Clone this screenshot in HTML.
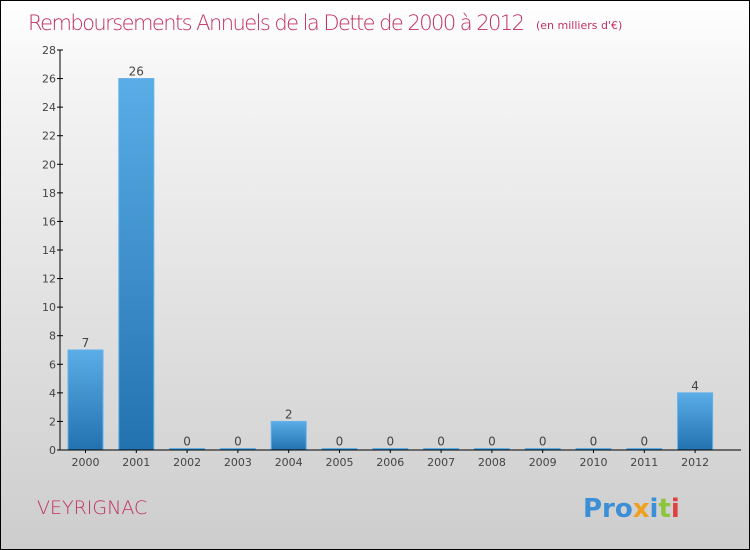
<!DOCTYPE html>
<html><head><meta charset="utf-8"><style>
body{margin:0}
#c{position:relative;width:748px;height:548px;border:1px solid #000;background:linear-gradient(#fff,#f4f4f4 15%,#cdcdcd);font-family:"DejaVu Sans","Liberation Sans",sans-serif;overflow:hidden}
</style></head><body>
<div id="c">
<svg width="748" height="548">
<text x="27" y="29" font-size="21" fill="#c2305e" font-family="DejaVu Sans,sans-serif" font-weight="200" textLength="497">Remboursements Annuels de la Dette de 2000 à 2012</text>
<text x="535" y="28" font-size="11" fill="#c2305e">(en milliers d'€)</text>
<g id="plot"></g>
<text x="36" y="513" font-size="19" fill="#c2305e" font-weight="200">VEYRIGNAC</text>
<text x="582" y="516" font-size="26" font-weight="bold"><tspan fill="#3a8fd6">Pro</tspan><tspan fill="#f0a020">x</tspan><tspan fill="#3a8fd6">i</tspan><tspan fill="#8cc63f">t</tspan><tspan fill="#e04040">i</tspan></text>
</svg></div>
<script>
const categories=["2000","2001","2002","2003","2004","2005","2006","2007","2008","2009","2010","2011","2012"];
const values=[7,26,0,0,2,0,0,0,0,0,0,0,4];
const yTicks=[0,2,4,6,8,10,12,14,16,18,20,22,24,26,28];
const X0=59,Y0=449,H=400,YMAX=28,BAND=50.8,BW=35;
const y=v=>Y0-v/YMAX*H, x=i=>X0+i*BAND;
const ns="http://www.w3.org/2000/svg",g=document.getElementById('plot');
function mk(t,a,txt){const e=document.createElementNS(ns,t);for(const k in a)e.setAttribute(k,a[k]);if(txt!=null)e.textContent=txt;g.appendChild(e);return e;}
const defs=mk('defs',{});
defs.innerHTML='<linearGradient id="bg" x1="0" y1="0" x2="0" y2="1"><stop offset="0" stop-color="#5aade6"/><stop offset="1" stop-color="#2272b0"/></linearGradient>';
categories.forEach((c,i)=>{
  const v=values[i],top=Math.min(y(v),Y0-1.5);
  const r=mk('rect',{x:x(i)+8,y:top,width:BW,height:Y0-top,fill:'url(#bg)',stroke:'#62b0e8','stroke-width':1});
  
  
  const l=mk('text',{x:x(i)+8+BW/2,y:top-3,'font-size':12,fill:'#444','text-anchor':'middle'},String(v));
  
  
  const t=mk('text',{x:x(i)+8+BW/2,y:Y0+16,'font-size':11,fill:'#444','text-anchor':'middle'},c);
  
  
  mk('line',{x1:x(i)+8+BW/2,x2:x(i)+8+BW/2,y1:Y0,y2:Y0+3,stroke:'#000'});
});
yTicks.forEach(v=>{
  mk('line',{x1:X0-3,x2:X0+3,y1:y(v),y2:y(v),stroke:'#000'});
  const t=mk('text',{x:X0-4,y:y(v)+4,'font-size':11,fill:'#444','text-anchor':'end'},String(v));
  
  
});
const ya=mk('line',{x1:X0,x2:X0,y1:y(YMAX),y2:Y0,stroke:'#000'});


const xa=mk('line',{x1:X0,x2:740,y1:Y0,y2:Y0,stroke:'#000'});


</script>
</body></html>
